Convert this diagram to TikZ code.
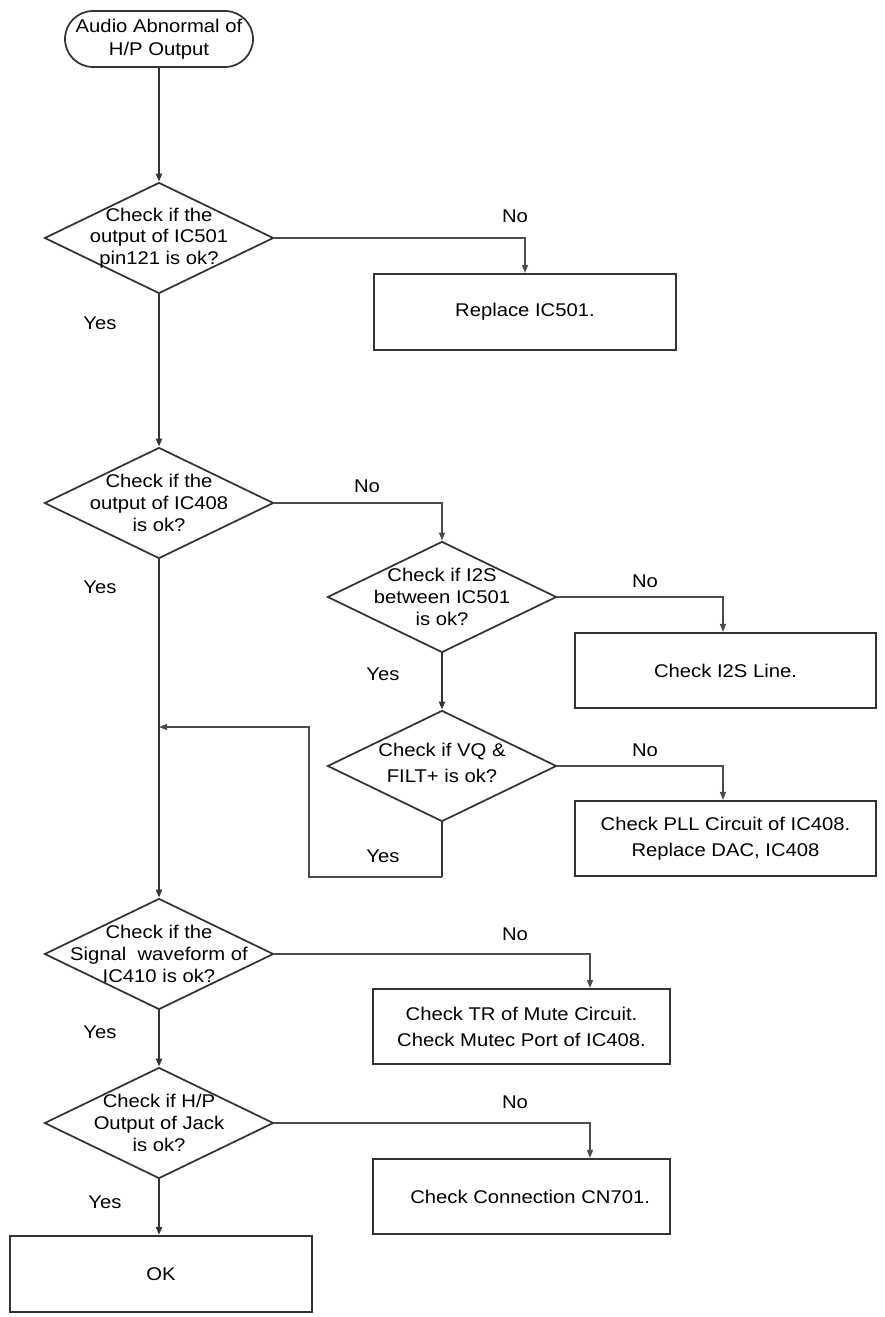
\documentclass[tikz,border=0pt]{standalone}
\usepackage{fontspec}
\setmainfont{Liberation Sans}[FakeStretch=1.1]
\usetikzlibrary{shapes.geometric,arrows.meta}
\begin{document}
\begin{tikzpicture}[x=0.75pt,y=-0.75pt,
  every node/.style={text=black},
  dia/.style={diamond, draw=black!80, line width=1.3pt, minimum width=171.75pt, minimum height=83.25pt, inner sep=0pt},
  dtext/.style={align=center, inner sep=0pt, text=black, font=\fontsize{13.8pt}{16.3pt}\selectfont},
  box/.style={rectangle, draw=black!80, line width=1.6pt, align=center, inner sep=0pt, font=\fontsize{13.8pt}{19.5pt}\selectfont},
  term/.style={rectangle, rounded corners=21pt, draw=black!80, line width=1.3pt, align=center, minimum width=141pt, minimum height=42pt, inner sep=0pt, font=\fontsize{13.8pt}{17.3pt}\selectfont},
  mainln/.style={draw=black!80, line width=1.9pt, -{Triangle[length=6pt,width=4.5pt]}},
  sideln/.style={draw=black!70, line width=1.1pt, -{Triangle[length=6pt,width=4.5pt]}},
  lab/.style={inner sep=0pt, font=\fontsize{13.8pt}{16.3pt}\selectfont}
]
\fill[white] (0,0) rectangle (885,1317);
\useasboundingbox (0,0) rectangle (885,1317);

% nodes
\node[term] (start) at (159,39) {Audio Abnormal of\\H/P Output};
\node[dia, label={[dtext]center:{Check if the\\output of IC501\\pin121 is ok?}}] (d1) at (159,238) {};
\node[box, minimum width=226.5pt, minimum height=57pt] (r1) at (525,312) {Replace IC501.};
\node[dia, label={[dtext]center:{Check if the\\output of IC408\\is ok?}}] (d2) at (159,503) {};
\node[dia, label={[dtext]center:{Check if I2S\\between IC501\\is ok?}}] (d3) at (442,597) {};
\node[box, minimum width=225.75pt, minimum height=56.25pt] (r3) at (725.5,670.5) {Check I2S Line.};
\node[dia, label={[dtext, yshift=2pt, font=\fontsize{13.8pt}{19.5pt}\selectfont]center:{Check if VQ \&\\FILT+ is ok?}}] (d4) at (442,766) {};
\node[box, minimum width=225.75pt, minimum height=56.25pt] (r4) at (725.5,838.5) {Check PLL Circuit of IC408.\\Replace DAC, IC408};
\node[dia, label={[dtext]center:{Check if the\\Signal\ \ waveform of\\IC410 is ok?}}] (d5) at (159,954) {};
\node[box, minimum width=222.75pt, minimum height=56.25pt] (r5) at (521.5,1026.5) {Check TR of Mute Circuit.\\Check Mutec Port of IC408.};
\node[dia, label={[dtext]center:{Check if H/P\\Output of Jack\\is ok?}}] (d6) at (159,1123) {};
\node[box, minimum width=222.75pt, minimum height=56.25pt] (r6) at (521.5,1196.5) {\hspace*{13pt}Check Connection CN701.};
\node[box, minimum width=226.5pt, minimum height=57pt] (ok) at (161,1274) {OK};

% labels
\node[lab] (n1) at (515,216) {No};
\node[lab] (y1) at (100,323) {Yes};
\node[lab] (n2) at (367,486) {No};
\node[lab] (y2) at (100,587) {Yes};
\node[lab] (n3) at (645,581) {No};
\node[lab] (y3) at (383,674) {Yes};
\node[lab] (n4) at (645,750) {No};
\node[lab] (y4) at (383,856) {Yes};
\node[lab] (n5) at (515,934) {No};
\node[lab] (y5) at (100,1032) {Yes};
\node[lab] (n6) at (515,1102) {No};
\node[lab] (y6) at (105,1202) {Yes};

% coordinates
\coordinate (c1) at (525,238);
\coordinate (c2) at (442,503);
\coordinate (c3) at (723,597);
\coordinate (c4) at (723,766);
\coordinate (c5) at (590,954);
\coordinate (c6) at (590,1123);
\coordinate (lb) at (442,877);
\coordinate (ll) at (309,877);
\coordinate (lt) at (309,727);
\coordinate (join) at (159,727);

% main flow
\draw[mainln] (start.south) -- (d1.north);
\draw[mainln] (d1.south) -- (d2.north);
\draw[mainln] (d2.south) -- (d5.north);
\draw[mainln] (d3.south) -- (d4.north);
\draw[mainln] (d5.south) -- (d6.north);
\draw[mainln] (d6.south) -- (ok.north -| d6.south);

% no branches
\draw[sideln] (d1.east) -- (c1) -- (r1.north -| c1);
\draw[sideln] (d2.east) -- (c2) -- (d3.north);
\draw[sideln] (d3.east) -- (c3) -- (r3.north -| c3);
\draw[sideln] (d4.east) -- (c4) -- (r4.north -| c4);
\draw[sideln] (d5.east) -- (c5) -- (r5.north -| c5);
\draw[sideln] (d6.east) -- (c6) -- (r6.north -| c6);

% loop back
\draw[draw=black!80, line width=1.9pt] (d4.south) -- (lb);
\draw[sideln] (lb) -- (ll) -- (lt) -- (join);
\end{tikzpicture}
\end{document}
